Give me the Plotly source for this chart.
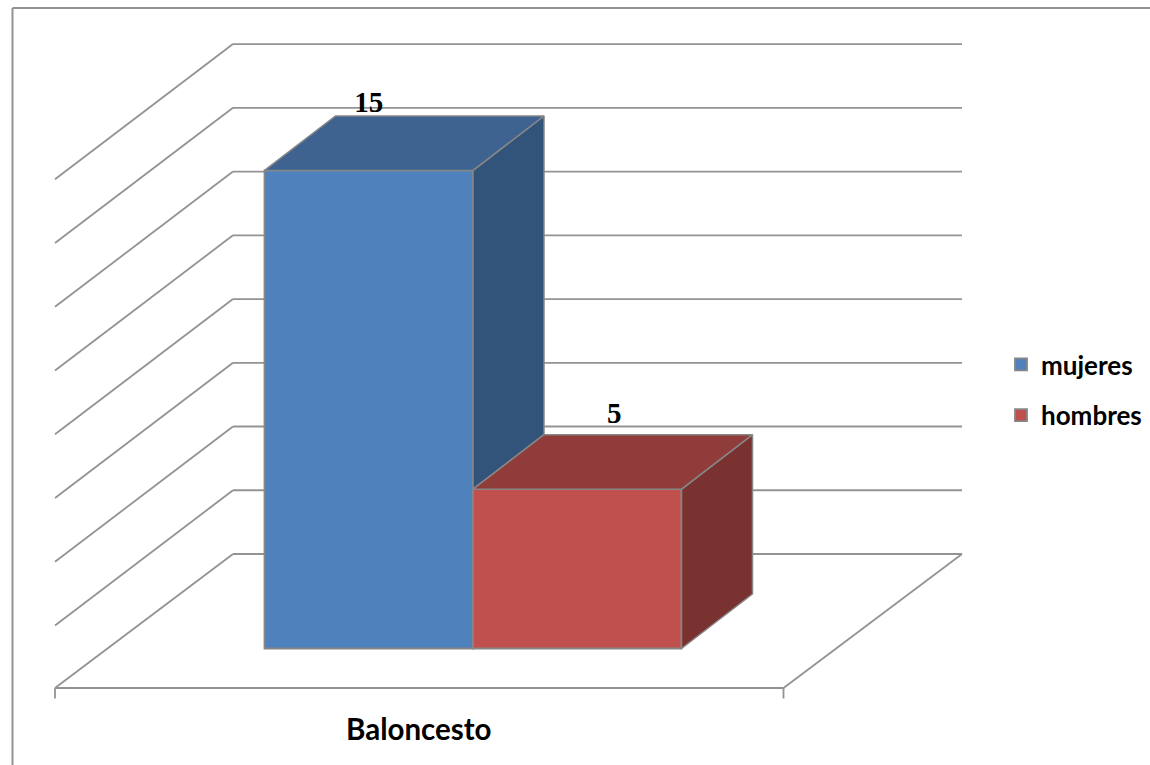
import plotly.graph_objects as go

# ---- data ----
categories = ["Baloncesto"]
series_names = ["mujeres", "hombres"]
series_values = [15, 5]
grid_values = [0, 2, 4, 6, 8, 10, 12, 14, 16]
label_shift_x = [0.0, 0.178]
label_shift_y = [0.34, 0.6]

front_colors = ["#4F81BD", "#C0504D"]
top_colors = ["#3F6391", "#8F3C3A"]
side_colors = ["#32537A", "#7A3230"]
EDGE = "#868686"
GRID = "#939393"

# ---- scale of the two hidden axes: 1 x unit = one bar, 1 y unit = one value
W, H = 1150, 765
PX_X, PX_Y = 208.5, 31.87
X0_PX, Y0_PX = 473.0, 648.5
x_range = [-X0_PX / PX_X, (W - X0_PX) / PX_X]
y_range = [-(H - Y0_PX) / PX_Y, Y0_PX / PX_Y]

# oblique projection offsets, in axis units
BAR_DX, BAR_DY = 71 / PX_X, 54.5 / PX_Y
WALL_LEFT, WALL_RIGHT = (233 - X0_PX) / PX_X, (962 - X0_PX) / PX_X
WALL_ZERO = (Y0_PX - 554) / PX_Y
FLOOR_LEFT, FLOOR_RIGHT = (55 - X0_PX) / PX_X, (783.5 - X0_PX) / PX_X
FLOOR_ZERO = (Y0_PX - 688) / PX_Y
TICK_LEN = 10.5 / PX_Y
DIAG_LIFT = 1.2 / PX_Y

shapes = []
def seg(x0, y0, x1, y1, color=GRID, width=1.8, xref="x", yref="y"):
    shapes.append(dict(type="line", xref=xref, yref=yref, x0=x0, y0=y0, x1=x1, y1=y1,
                       line=dict(color=color, width=width), layer="below"))

# chart frame
seg(12.5 / W, 0, 12.5 / W, 1 - 8 / H, xref="paper", yref="paper", width=2)
seg(12.5 / W, 1 - 8 / H, 1, 1 - 8 / H, xref="paper", yref="paper", width=2)

# walls
for g in grid_values:
    yb = WALL_ZERO + g
    yf = FLOOR_ZERO + g - (DIAG_LIFT if g else 0)
    seg(FLOOR_LEFT, yf, WALL_LEFT, yb)
    seg(WALL_LEFT, yb, WALL_RIGHT, yb)
# floor
seg(FLOOR_LEFT, FLOOR_ZERO, FLOOR_RIGHT, FLOOR_ZERO)
seg(FLOOR_RIGHT, FLOOR_ZERO, WALL_RIGHT, WALL_ZERO)
seg(FLOOR_LEFT, FLOOR_ZERO, FLOOR_LEFT, FLOOR_ZERO - TICK_LEN)
seg(FLOOR_RIGHT, FLOOR_ZERO, FLOOR_RIGHT, FLOOR_ZERO - TICK_LEN)

fig = go.Figure()
n = len(series_values)
for i, (name, v) in enumerate(zip(series_names, series_values)):
    left = i - 1
    # front face
    fig.add_trace(go.Bar(
        x=[left + 0.5], y=[v], width=[1], name=name, legendgroup=name,
        marker=dict(color=front_colors[i], line=dict(color=EDGE, width=1.8)),
        hoverinfo="name+y",
    ))
for i, (name, v) in enumerate(zip(series_names, series_values)):
    left = i - 1
    right = i
    # the side face is hidden below the height of the next bar
    hidden = series_values[i + 1] if i + 1 < n else 0
    fig.add_trace(go.Scatter(
        x=[right, right + BAR_DX, right + BAR_DX, right, right],
        y=[v, v + BAR_DY, hidden + BAR_DY, hidden, v],
        mode="lines", fill="toself", fillcolor=side_colors[i],
        line=dict(color=EDGE, width=1.5), showlegend=False, hoverinfo="skip",
    ))
    fig.add_trace(go.Scatter(
        x=[left, left + BAR_DX, right + BAR_DX, right, left],
        y=[v, v + BAR_DY, v + BAR_DY, v, v],
        mode="lines", fill="toself", fillcolor=top_colors[i],
        line=dict(color=EDGE, width=1.5), showlegend=False, hoverinfo="skip",
    ))
    fig.add_trace(go.Scatter(
        x=[left + 0.5 + label_shift_x[i]],
        y=[v + BAR_DY + label_shift_y[i]],
        mode="text", text=[str(v)], textposition="middle center",
        textfont=dict(family="Liberation Serif", size=29, color="#000000", weight="bold"),
        showlegend=False, hoverinfo="skip",
    ))

fig.add_annotation(
    x=(FLOOR_LEFT + FLOOR_RIGHT) / 2, y=FLOOR_ZERO - 40 / PX_Y,
    text=categories[0], showarrow=False, xanchor="center", yanchor="middle",
    font=dict(family="Lato", size=29.5, color="#000000", weight="bold"),
)

fig.update_layout(
    width=W, height=H, margin=dict(l=0, r=0, t=0, b=0),
    paper_bgcolor="#FFFFFF", plot_bgcolor="#FFFFFF",
    barmode="overlay", shapes=shapes,
    xaxis=dict(range=x_range, visible=False, fixedrange=True),
    yaxis=dict(range=y_range, visible=False, fixedrange=True),
    legend=dict(
        x=1001 / W, y=1 - 390 / H, xanchor="left", yanchor="middle",
        tracegroupgap=14, font=dict(family="Lato", size=26, color="#000000", weight="bold"),
        bgcolor="rgba(0,0,0,0)", itemwidth=30,
    ),
)

fig.write_html("out.html", config={"displayModeBar": False},
               post_script="document.body.style.margin='0';")
